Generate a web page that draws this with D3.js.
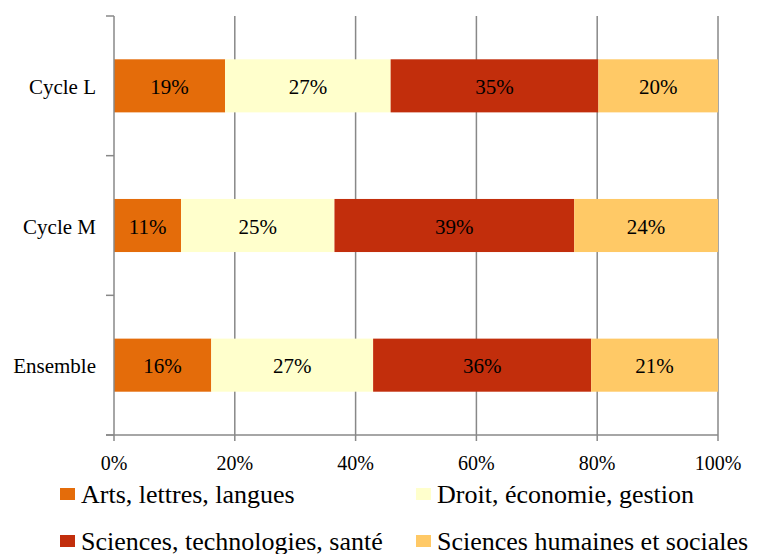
<!DOCTYPE html>
<html><head><meta charset="utf-8">
<script src="https://cdn.jsdelivr.net/npm/d3@7"></script>
</head><body style="margin:0">
<svg id="c" width="757" height="554" style="display:block"></svg>
<script>
const categories = ["Cycle L", "Cycle M", "Ensemble"];
const seriesNames = ["Arts, lettres, langues", "Droit, économie, gestion", "Sciences, technologies, santé", "Sciences humaines et sociales"];
const seriesColors = ["#E46C0A", "#FFFFCC", "#C22E0C", "#FFC966"];
const arts = [18.4, 11.1, 16.1];
const droit = [27.4, 25.4, 26.8];
const sciences = [34.4, 39.7, 36.1];
const humaines = [19.8, 23.8, 21.0];
const artsLabels = ["19%", "11%", "16%"];
const droitLabels = ["27%", "25%", "27%"];
const sciencesLabels = ["35%", "39%", "36%"];
const humainesLabels = ["20%", "24%", "21%"];
const xTicks = [0, 20, 40, 60, 80, 100];

const series = [arts, droit, sciences, humaines];
const labels = [artsLabels, droitLabels, sciencesLabels, humainesLabels];

const svg = d3.select("#c");
const FONT = "'Liberation Serif', serif";
const pLeft = 114, pRight = 718, pTop = 16, pBottom = 435;
const x = d3.scaleLinear().domain([0, 100]).range([pLeft, pRight]);
const y = d3.scaleBand().domain(categories).range([pTop, pBottom]).paddingInner(0.62).paddingOuter(0.31);

// grid lines
svg.append("g").selectAll("line").data(xTicks.slice(1)).join("line")
  .attr("x1", d => x(d)).attr("x2", d => x(d)).attr("y1", pTop).attr("y2", pBottom)
  .attr("stroke", "#888").attr("stroke-width", 1.5);

// bars
const rows = categories.map((c, i) => {
  let acc = 0;
  return series.map((s, k) => { const d = {cat: c, k, x0: acc, x1: acc + s[i], label: labels[k][i]}; acc += s[i]; return d; });
}).flat();

svg.append("g").selectAll("rect").data(rows).join("rect")
  .attr("x", d => x(d.x0)).attr("width", d => x(d.x1) - x(d.x0))
  .attr("y", d => y(d.cat)).attr("height", y.bandwidth())
  .attr("fill", d => seriesColors[d.k]);

svg.append("g").selectAll("text").data(rows).join("text")
  .attr("x", d => (x(d.x0) + x(d.x1)) / 2).attr("y", d => y(d.cat) + y.bandwidth() / 2 + 8)
  .attr("text-anchor", "middle").style("font-family", FONT).style("font-size", "21px").text(d => d.label);

// left axis
const bounds = [pTop, ...categories.map((c, i) => pTop + (pBottom - pTop) * (i + 1) / categories.length)];
svg.append("line").attr("x1", pLeft).attr("x2", pLeft).attr("y1", pTop).attr("y2", pBottom).attr("stroke", "#888").attr("stroke-width", 1.5);
svg.append("g").selectAll("line").data(bounds).join("line")
  .attr("x1", pLeft - 8).attr("x2", pLeft).attr("y1", d => d).attr("y2", d => d).attr("stroke", "#888").attr("stroke-width", 1.5);
svg.append("g").selectAll("text").data(categories).join("text")
  .attr("x", 96).attr("y", d => y(d) + y.bandwidth() / 2 + 8)
  .attr("text-anchor", "end").style("font-family", FONT).style("font-size", "21px").text(d => d);

// bottom axis
svg.append("line").attr("x1", pLeft - 8).attr("x2", pRight).attr("y1", pBottom).attr("y2", pBottom).attr("stroke", "#888").attr("stroke-width", 1.5);
svg.append("g").selectAll("line").data(xTicks).join("line")
  .attr("x1", d => x(d)).attr("x2", d => x(d)).attr("y1", pBottom).attr("y2", pBottom + 6).attr("stroke", "#888").attr("stroke-width", 1.5);
svg.append("g").selectAll("text").data(xTicks).join("text")
  .attr("x", d => x(d)).attr("y", 470).attr("text-anchor", "middle").style("font-family", FONT).style("font-size", "20px").text(d => d + "%");

// legend
const legPos = [[60, 503], [416, 503], [60, 550], [416, 550]];
const lg = svg.append("g").selectAll("g").data(seriesNames).join("g")
  .attr("transform", (d, i) => `translate(${legPos[i][0]},${legPos[i][1]})`);
lg.append("rect").attr("x", 0).attr("y", -15).attr("width", 15).attr("height", 12).attr("fill", (d, i) => seriesColors[i]);
lg.append("text").attr("x", 21).attr("y", 0).style("font-family", FONT).style("font-size", "26px").text(d => d);
</script>
</body></html>
